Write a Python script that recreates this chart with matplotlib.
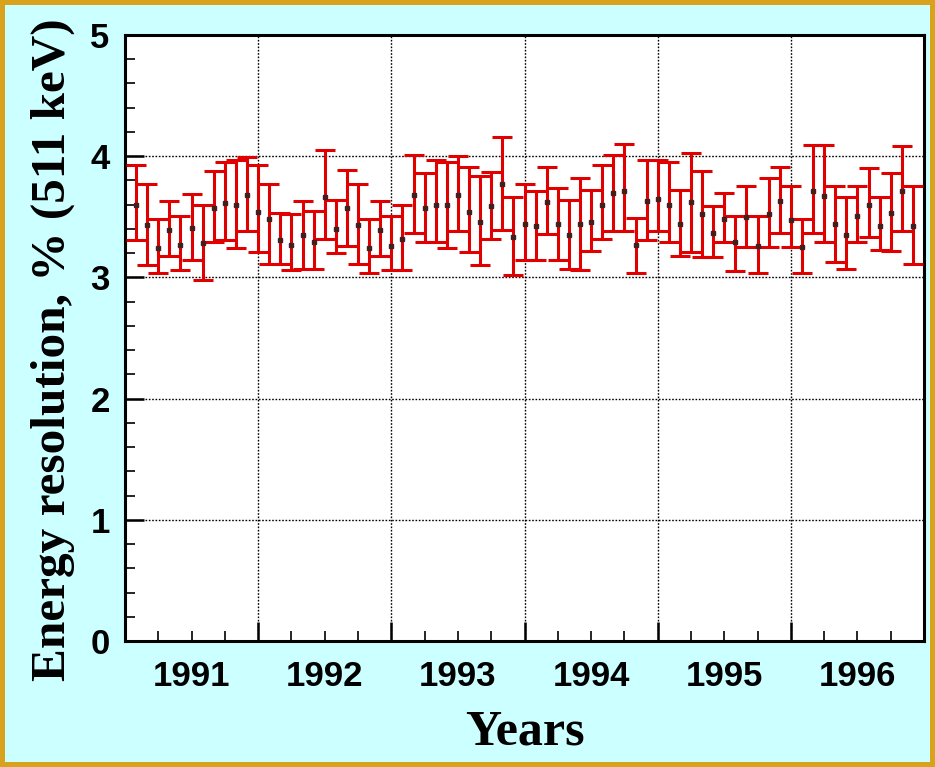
import numpy as np
import matplotlib

matplotlib.use("Agg")
import matplotlib.pyplot as plt
from matplotlib.ticker import MultipleLocator, NullFormatter

# monthly points, 1991 + k/12 for k = 1..71
month_index = list(range(1, 72))

resolution = [
    3.60, 3.43, 3.24, 3.39, 3.27, 3.41, 3.28, 3.57, 3.61, 3.60, 3.68, 3.54,
    3.48, 3.31, 3.27, 3.35, 3.29, 3.66, 3.40, 3.57, 3.43, 3.24, 3.39, 3.26,
    3.32, 3.68, 3.57, 3.60, 3.60, 3.68, 3.54, 3.46, 3.59, 3.77, 3.33, 3.44,
    3.42, 3.62, 3.44, 3.35, 3.44, 3.46, 3.60, 3.70, 3.71, 3.27, 3.63, 3.65,
    3.60, 3.44, 3.62, 3.52, 3.37, 3.48, 3.29, 3.50, 3.26, 3.52, 3.63, 3.47,
    3.25, 3.71, 3.67, 3.44, 3.35, 3.51, 3.60, 3.42, 3.53, 3.71, 3.42,
]
upper = [
    3.93, 3.77, 3.48, 3.63, 3.51, 3.69, 3.60, 3.88, 3.95, 3.97, 3.99, 3.93,
    3.77, 3.53, 3.52, 3.63, 3.55, 4.05, 3.64, 3.89, 3.77, 3.48, 3.63, 3.51,
    3.60, 4.01, 3.86, 3.97, 3.95, 4.00, 3.91, 3.84, 3.87, 4.16, 3.66, 3.77,
    3.71, 3.91, 3.74, 3.64, 3.82, 3.72, 3.93, 4.01, 4.10, 3.49, 3.97, 3.97,
    3.95, 3.72, 4.03, 3.88, 3.59, 3.70, 3.51, 3.75, 3.51, 3.82, 3.91, 3.75,
    3.48, 4.09, 4.09, 3.75, 3.66, 3.75, 3.90, 3.66, 3.86, 4.08, 3.75,
]
lower = [
    3.31, 3.10, 3.04, 3.18, 3.06, 3.14, 2.98, 3.29, 3.31, 3.24, 3.38, 3.21,
    3.11, 3.11, 3.06, 3.07, 3.07, 3.32, 3.20, 3.26, 3.11, 3.04, 3.18, 3.06,
    3.06, 3.37, 3.29, 3.29, 3.24, 3.38, 3.21, 3.10, 3.32, 3.39, 3.02, 3.14,
    3.14, 3.36, 3.14, 3.07, 3.06, 3.22, 3.32, 3.38, 3.38, 3.04, 3.31, 3.38,
    3.29, 3.18, 3.21, 3.17, 3.17, 3.29, 3.05, 3.25, 3.04, 3.25, 3.37, 3.25,
    3.04, 3.37, 3.29, 3.13, 3.07, 3.29, 3.33, 3.23, 3.22, 3.38, 3.11,
]

year_labels = ["1991", "1992", "1993", "1994", "1995", "1996"]

x = 1991 + np.array(month_index) / 12.0
y = np.array(resolution)
yerr = [y - np.array(lower), np.array(upper) - y]

fig = plt.figure(figsize=(9.35, 7.67), dpi=100, facecolor="#ccffff",
                 edgecolor="#d8a21c", linewidth=7)
ax = fig.add_axes([0.1337, 0.1643, 0.8546, 0.7901])
ax.set_facecolor("white")

ax.errorbar(x, y, yerr=yerr, fmt="s", color="#e00000", ecolor="#e00000",
            elinewidth=2.2, capsize=7, capthick=2.2,
            markersize=2.5, markerfacecolor="#402020", markeredgecolor="#402020",
            zorder=3)

ax.set_xlim(1991, 1997)
ax.set_ylim(0, 5)

# year boundaries: major ticks + grid, labels in the middle of each year
ax.xaxis.set_major_locator(MultipleLocator(1))
ax.xaxis.set_minor_locator(MultipleLocator(0.25))
ax.xaxis.set_major_formatter(NullFormatter())
ax.yaxis.set_major_locator(MultipleLocator(1))
ax.yaxis.set_minor_locator(MultipleLocator(0.2))

ax.grid(True, which="major", color="black", linestyle=(0, (1.2, 1.2)), linewidth=1.0)

for i, lab in enumerate(year_labels):
    ax.text(1991.5 + i, -0.16, lab, ha="center", va="top",
            fontsize=25, fontweight="bold", family="Liberation Sans")

ax.tick_params(axis="both", which="major", direction="in", length=14, width=1.8,
               top=False, right=False)
ax.tick_params(axis="both", which="minor", direction="in", length=7, width=1.2,
               top=False, right=False)
ax.tick_params(axis="y", labelsize=25, pad=11)
for t in ax.get_yticklabels():
    t.set_fontweight("bold")
    t.set_family("Liberation Sans")

for s in ax.spines.values():
    s.set_linewidth(2.2)

ax.set_xlabel("Years", fontsize=36, fontweight="bold", family="Liberation Serif",
              labelpad=46)
ax.set_ylabel("Energy resolution, % (511 keV)", fontsize=35.5, fontweight="bold",
              family="Liberation Serif")
ax.yaxis.set_label_coords(-0.063, 0.48)

fig.savefig("out.png", dpi=100, facecolor=fig.get_facecolor(),
            edgecolor=fig.get_edgecolor())
